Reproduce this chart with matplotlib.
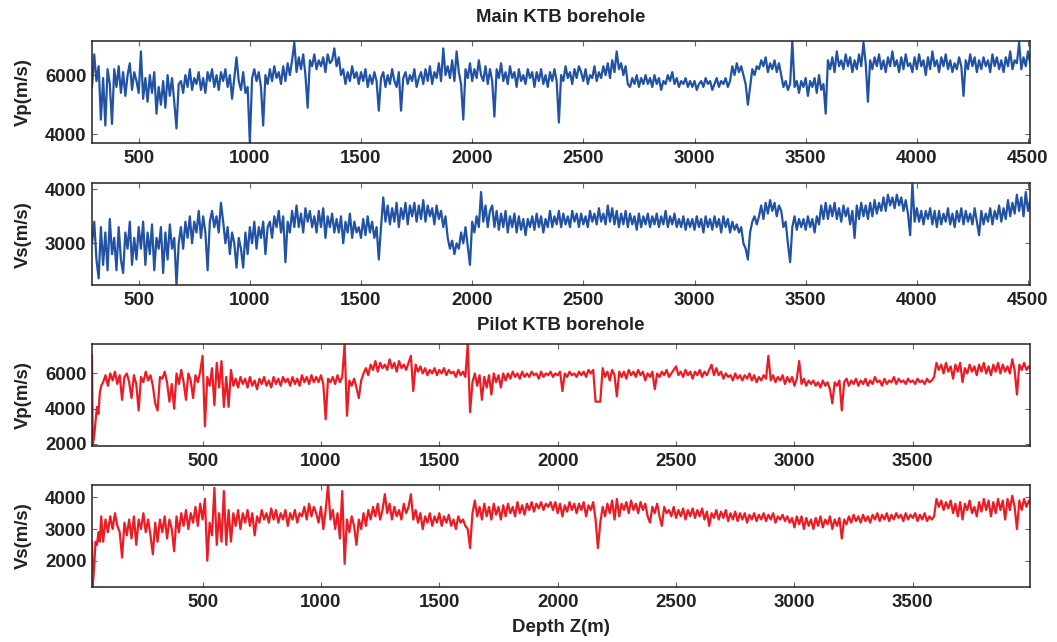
import numpy as np
import matplotlib
matplotlib.use("Agg")
import matplotlib.pyplot as plt

# ----- Velocity logs -----
# Main KTB borehole, one value every 10 m starting at 290 m
main_start, main_step = 290, 10
main_vp = [
    5600, 6700, 5800, 6300, 4500, 5900, 4300, 6200, 5700, 4350,
    6200, 5600, 6300, 5400, 6100, 5300, 6000, 6400, 5500, 6100,
    5800, 5400, 6800, 5200, 5900, 5100, 6000, 5400, 6100, 4700,
    5600, 5000, 5800, 4900, 6000, 5300, 5900, 5100, 4200, 5700,
    5800, 5400, 6000, 5600, 6200, 5500, 5900, 5700, 6100, 5500,
    5900, 5400, 6100, 5800, 6200, 5600, 6000, 5500, 6100, 5800,
    6200, 5600, 6000, 5200, 5900, 6600, 5800, 5500, 6100, 5400,
    5600, 3700, 5900, 6200, 5800, 6100, 5600, 4300, 6000, 5700,
    6200, 5800, 6300, 5900, 6100, 5700, 6300, 5800, 6400, 6000,
    6500, 7100, 6100, 6600, 6200, 6700, 6000, 4900, 6500, 6300,
    6700, 6200, 6500, 6300, 6600, 6100, 6700, 6400, 6500, 6900,
    6300, 6600, 6000, 6200, 5700, 6100, 5800, 6300, 5900, 6100,
    5700, 6100, 5800, 6200, 5600, 6000, 5700, 6100, 5800, 4800,
    5900, 6100, 5600, 6000, 5700, 6200, 5800, 5600, 6100, 4800,
    5900, 6100, 5700, 6000, 5800, 6200, 5600, 5900, 6100, 5700,
    6200, 5800, 6300, 5700, 6100, 5900, 6400, 5800, 6900, 6000,
    6300, 5900, 6500, 5800, 6800, 6100, 5700, 4500, 6200, 5900,
    6400, 5800, 6200, 5900, 6500, 6000, 5800, 6300, 5700, 6200,
    5800, 4600, 6200, 5900, 6400, 5800, 6100, 5700, 6300, 5900,
    6100, 5600, 6200, 5800, 6000, 5700, 6200, 5900, 6100, 5600,
    6100, 5800, 6200, 5700, 6000, 5600, 6100, 5800, 6200, 5800,
    4400, 6000, 5800, 6300, 5900, 6100, 5700, 6200, 5900, 6300,
    6100, 5800, 6200, 5700, 6000, 5900, 6300, 5800, 6100, 5900,
    6300, 6000, 6400, 5900, 6500, 6100, 6800, 6200, 6400, 6000,
    6300, 5700, 5600, 5900, 5700, 6000, 5600, 5900, 5700, 6000,
    5700, 5900, 5600, 6000, 5700, 5900, 5500, 5800, 5700, 6000,
    5800, 6100, 5700, 5900, 5600, 5800, 5700, 5900, 5600, 5800,
    5600, 5800, 5500, 5700, 5800, 5600, 5900, 5700, 5800, 5500,
    5700, 5900, 5600, 5800, 5700, 5900, 5600, 5800, 6300, 6000,
    6400, 6100, 6300, 6000, 5700, 5000, 5600, 6200, 6000, 6300,
    6200, 6500, 6300, 6600, 6100, 6400, 6200, 6500, 6100, 6400,
    6000, 5600, 5800, 5500, 5700, 7140, 5600, 5800, 5400, 5800,
    5600, 5900, 5300, 5800, 5600, 5900, 5400, 6000, 5500, 5700,
    4700, 6500, 6200, 6600, 6100, 6800, 6300, 6500, 6200, 6700,
    6300, 6600, 6100, 6500, 6200, 6700, 6300, 7100, 6400, 5100,
    6500, 6200, 6600, 6300, 6700, 6200, 6500, 6100, 6600, 6300,
    6800, 6300, 6500, 6100, 6600, 6200, 6700, 6300, 6400, 6100,
    6600, 6200, 6700, 6300, 6500, 6000, 6600, 6200, 6800, 6300,
    6500, 6100, 6600, 6300, 6700, 6200, 6500, 6100, 6400, 6200,
    6600, 6300, 5300, 6500, 6200, 6700, 6300, 6600, 6100, 6500,
    6200, 6600, 6300, 6500, 6100, 6700, 6300, 6600, 6200, 6500,
    6100, 6600, 6300, 6800, 6200, 6500, 6400, 7100, 6200, 6600,
    6300, 6800, 6400,
]
main_vs = [
    3000, 3400, 2700, 2350, 3300, 2600, 3200, 2500, 3450, 2800,
    3100, 2500, 3300, 2700, 2450, 3200, 2900, 3400, 2600, 3100,
    2700, 3300, 2900, 3400, 2600, 3200, 2800, 3350, 2500, 3100,
    2900, 3300, 2450, 3200, 2700, 3350, 2900, 3100, 2230, 3000,
    3300, 2900, 3400, 3100, 3500, 3000, 3400, 3200, 3600, 3100,
    3500, 3200, 2500, 3400, 3600, 3300, 3500, 3200, 3750, 3400,
    3000, 3300, 2800, 3200, 3000, 2550, 3100, 2900, 2550, 3200,
    2800, 3300, 3000, 3400, 2900, 3300, 3100, 3400, 2800, 3300,
    3400, 3100, 3500, 3300, 3600, 3200, 3500, 2650, 3400, 3200,
    3600, 3300, 3700, 3300, 3550, 3200, 3650, 3400, 3600, 3300,
    3500, 3200, 3600, 3300, 3650, 3100, 3500, 3300, 3550, 3200,
    3450, 3200, 3500, 3000, 3400, 3200, 3550, 3100, 3400, 3200,
    3300, 3100, 3450, 3150, 3500, 3200, 3400, 3100, 3300, 2700,
    3300, 3850, 3400, 3700, 3350, 3650, 3400, 3750, 3300, 3650,
    3450, 3750, 3350, 3700, 3500, 3750, 3400, 3700, 3450, 3800,
    3400, 3700, 3500, 3650, 3350, 3700, 3450, 3600, 3300, 3500,
    3100, 2900, 3050, 2800, 3000, 2900, 3200, 3000, 3300, 2950,
    2600, 3400, 3200, 3500, 3300, 3950, 3400, 3700, 3300, 3600,
    3700, 3300, 3600, 3250, 3550, 3300, 3600, 3200, 3500, 3300,
    3550, 3200, 3500, 3250, 3450, 3150, 3450, 3300, 3500, 3250,
    3550, 3300, 3500, 3200, 3450, 3300, 3600, 3300, 3500, 3350,
    3600, 3300, 3550, 3350, 3500, 3300, 3600, 3400, 3550, 3300,
    3550, 3350, 3500, 3300, 3600, 3400, 3550, 3350, 3650, 3400,
    3550, 3350, 3700, 3400, 3650, 3350, 3600, 3300, 3550, 3350,
    3600, 3300, 3550, 3350, 3500, 3250, 3550, 3300, 3500, 3350,
    3550, 3300, 3500, 3350, 3550, 3300, 3500, 3350, 3600, 3300,
    3500, 3350, 3550, 3300, 3450, 3300, 3500, 3250, 3450, 3300,
    3450, 3250, 3500, 3300, 3450, 3200, 3500, 3300, 3450, 3250,
    3500, 3300, 3450, 3200, 3500, 3300, 3450, 3200, 3400, 3250,
    3350, 3200, 3300, 3000, 2900, 2700, 3200, 3400, 3500, 3350,
    3500, 3700, 3450, 3750, 3550, 3800, 3600, 3750, 3500, 3700,
    3600, 3300, 3400, 3000, 2650, 3300, 3500, 3250, 3450, 3300,
    3450, 3250, 3500, 3300, 3450, 3200, 3500, 3350, 3700, 3450,
    3750, 3450, 3700, 3500, 3750, 3450, 3650, 3400, 3700, 3500,
    3650, 3350, 3600, 3100, 3700, 3450, 3750, 3500, 3700, 3450,
    3750, 3500, 3800, 3550, 3750, 3600, 3850, 3600, 3900, 3700,
    3850, 3650, 3900, 3700, 3850, 3600, 3800, 3550, 3150, 4110,
    3400, 3650, 3400, 3600, 3350, 3600, 3450, 3650, 3350, 3600,
    3300, 3600, 3350, 3550, 3400, 3650, 3350, 3550, 3300, 3600,
    3400, 3650, 3350, 3600, 3400, 3550, 3350, 3650, 3400, 3150,
    3600, 3350, 3550, 3400, 3650, 3350, 3600, 3450, 3700, 3400,
    3650, 3450, 3800, 3500, 3750, 3550, 3900, 3600, 3850, 3500,
    3950, 3600, 3800,
]

# Pilot KTB borehole: the top few metres, then one value every 10 m from 80 m
pilot_head_z = [33, 36, 42, 48, 54, 60, 66, 72]
pilot_head_vp = [7000, 1950, 2400, 3300, 4100, 3700, 4900, 5300]
pilot_head_vs = [2600, 1170, 1800, 2600, 2500, 2900, 2600, 3400]
pilot_start, pilot_step = 80, 10
pilot_vp = [
    5500, 5900, 5300, 6000, 5600, 6100, 5400, 5900, 4500, 5800,
    6000, 5500, 4600, 5900, 5400, 3900, 5800, 5500, 6100, 5600,
    5900, 5300, 4300, 3900, 5800, 5700, 6100, 5500, 4400, 5400,
    4000, 6000, 5400, 6200, 5500, 4500, 6000, 5600, 4600, 5900,
    5500, 6100, 7000, 3000, 5800, 5300, 6300, 4200, 6600, 5200,
    6700, 4100, 5800, 4100, 6200, 5300, 5700, 5200, 5800, 5400,
    5700, 5200, 5800, 5300, 5600, 5100, 5700, 5400, 5800, 5300,
    5600, 5200, 5800, 5400, 5700, 5300, 5800, 5500, 5700, 5300,
    5800, 5400, 5700, 5300, 5900, 5500, 5800, 5400, 5900, 5500,
    5800, 5500, 5900, 5400, 3400, 5700, 5500, 5800, 5400, 5900,
    5500, 5800, 7670, 3600, 5600, 5300, 5700, 5200, 4600, 5600,
    6000, 6300, 5900, 6500, 6200, 6700, 6100, 6600, 6300, 6500,
    6200, 6800, 6300, 6600, 6100, 6700, 6300, 6500, 6200, 6600,
    7000, 5000, 6500, 6100, 6400, 6000, 6300, 5900, 6200, 6000,
    6300, 5900, 6200, 6000, 6300, 5900, 6200, 6000, 6100, 5800,
    6200, 5900, 6100, 5800, 7670, 3800, 5500, 6000, 5300, 5900,
    4500, 5800, 5200, 5900, 4800, 6000, 5500, 5900, 5200, 6000,
    5600, 6000, 5700, 6100, 5800, 6000, 5700, 6100, 5800, 6000,
    5800, 6100, 5900, 6000, 5700, 6100, 5800, 6000, 5900, 6100,
    5800, 6000, 5900, 6100, 5000, 6000, 5800, 6100, 5900, 6000,
    5800, 6100, 5900, 6100, 5800, 6200, 6000, 6200, 4400, 4400,
    4400, 6300, 5800, 6100, 5600, 6200, 5900, 4700, 6100, 5800,
    6100, 5700, 6200, 5900, 6100, 5800, 6200, 5900, 6100, 5600,
    6000, 5800, 6100, 5100, 6000, 5800, 6100, 5900, 6200, 5800,
    6000, 6200, 6400, 5900, 6100, 5800, 6200, 5900, 6100, 5700,
    6100, 5900, 6200, 5800, 6100, 5900, 6200, 6500, 5900, 6300,
    5900, 6100, 5700, 6000, 5800, 5900, 5600, 6000, 5700, 5900,
    5600, 5900, 5700, 6000, 5600, 5900, 5500, 5800, 5600, 5900,
    5700, 7000, 5600, 5900, 5500, 5800, 5600, 5900, 5400, 5800,
    5500, 5800, 5300, 5700, 6700, 5400, 5700, 5300, 5600, 5400,
    5600, 5300, 5500, 5200, 5600, 5300, 5500, 5100, 4300, 5500,
    5300, 5600, 3900, 5500, 5700, 5300, 5600, 5400, 5700, 5300,
    5600, 5400, 5700, 5300, 5600, 5400, 5800, 5500, 5600, 5300,
    5700, 5400, 5600, 5500, 5800, 5400, 5700, 5500, 5600, 5400,
    5700, 5500, 5600, 5400, 5700, 5500, 5600, 5400, 5700, 5500,
    5600, 5800, 6600, 6200, 6500, 6000, 6600, 6100, 6400, 5700,
    6500, 6100, 6600, 5500, 6300, 6000, 6500, 6100, 6400, 5900,
    6500, 6100, 6600, 6000, 6400, 5900, 6500, 6100, 6600, 6000,
    6500, 6100, 6400, 6000, 6800, 6200, 4800, 6500, 6200, 6600,
    6200, 6400, 6100,
]
pilot_vs = [
    2600, 3300, 2900, 3400, 3000, 3500, 3100, 2900, 2100, 3200,
    2800, 3300, 2700, 3400, 2500, 3300, 3000, 3500, 2900, 3300,
    2800, 2200, 3200, 2600, 3300, 2900, 3400, 2700, 3300, 3000,
    2300, 3400, 2900, 3500, 3100, 3600, 3000, 3500, 3200, 3700,
    3100, 3800, 3300, 3950, 2000, 3200, 2800, 4300, 2500, 3500,
    2600, 4200, 2500, 3600, 2600, 3500, 3100, 3600, 3000, 3500,
    3200, 3600, 3100, 3500, 2800, 3400, 3200, 3600, 3300, 3500,
    3200, 3650, 3300, 3600, 3200, 3500, 3300, 3600, 3100, 3500,
    3300, 3600, 3200, 3500, 3400, 3700, 3300, 3800, 3400, 3700,
    3500, 3200, 3700, 3000, 3600, 4390, 3300, 3600, 3000, 3500,
    2700, 4200, 1900, 3300, 2900, 3400, 3100, 2500, 3300, 3000,
    3500, 3100, 3600, 3300, 3700, 3400, 3800, 3300, 3600, 4100,
    3500, 3800, 3300, 3700, 3400, 3600, 3300, 3800, 3500, 3700,
    4100, 3300, 3600, 3200, 3500, 3000, 3400, 3200, 3500, 3100,
    3400, 3200, 3500, 3100, 3400, 3200, 3450, 3100, 3300, 3000,
    3400, 3200, 3300, 3100, 3000, 2400, 3500, 3900, 3400, 3700,
    3300, 3800, 3400, 3700, 3300, 3800, 3450, 3700, 3300, 3750,
    3400, 3800, 3500, 3700, 3400, 3850, 3500, 3750, 3450, 3800,
    3600, 3850, 3550, 3800, 3650, 3850, 3600, 3800, 3700, 3850,
    3600, 3850, 3500, 3800, 3400, 3750, 3550, 3850, 3600, 3800,
    3500, 3800, 3600, 3850, 3400, 3750, 3600, 3850, 3300, 2400,
    3200, 3700, 3400, 3800, 3500, 3900, 3300, 3950, 3400, 3800,
    3600, 3850, 3500, 3900, 3600, 3800, 3500, 3850, 3600, 3800,
    3400, 3200, 3700, 3500, 3800, 3400, 3100, 3700, 3500, 3600,
    3400, 3700, 3350, 3600, 3400, 3650, 3300, 3600, 3400, 3650,
    3350, 3600, 3400, 3650, 3300, 3550, 3100, 3500, 3350, 3600,
    3300, 3550, 3350, 3600, 3250, 3500, 3300, 3550, 3250, 3500,
    3300, 3500, 3200, 3450, 3300, 3500, 3250, 3450, 3300, 3500,
    3250, 3450, 3300, 3500, 3200, 3400, 3300, 3450, 3250, 3400,
    3200, 3350, 3050, 3400, 3150, 3400, 3000, 3350, 3100, 3300,
    3000, 3350, 3100, 3400, 3050, 3300, 3150, 3400, 3000, 3300,
    3100, 3350, 2700, 3300, 3150, 3400, 3200, 3450, 3250, 3400,
    3200, 3450, 3250, 3400, 3200, 3450, 3300, 3500, 3250, 3450,
    3300, 3500, 3250, 3450, 3300, 3500, 3350, 3450, 3250, 3500,
    3300, 3450, 3350, 3500, 3250, 3450, 3300, 3500, 3250, 3400,
    3300, 3400, 3950, 3700, 3900, 3600, 3850, 3650, 3900, 3500,
    3800, 3400, 3850, 3300, 3800, 3600, 3900, 3500, 3700, 3400,
    3850, 3550, 3950, 3600, 3900, 3400, 3850, 3500, 3950, 3600,
    3900, 3300, 3950, 3600, 4050, 3700, 3000, 3900, 3600, 3950,
    3700, 3900, 3750,
]

main_z = main_start + main_step * np.arange(len(main_vp))
pilot_z = np.concatenate([pilot_head_z,
                          pilot_start + pilot_step * np.arange(len(pilot_vp))])
pilot_vp_all = np.concatenate([pilot_head_vp, pilot_vp])
pilot_vs_all = np.concatenate([pilot_head_vs, pilot_vs])

main_xticks = [500, 1000, 1500, 2000, 2500, 3000, 3500, 4000, 4500]
pilot_xticks = [500, 1000, 1500, 2000, 2500, 3000, 3500]

blue = '#2152A3'
red = '#ED1C24'

plt.rcParams['font.family'] = ['Liberation Sans', 'DejaVu Sans']
plt.rcParams['font.weight'] = 'bold'
plt.rcParams['font.size'] = 13.4
plt.rcParams['text.color'] = '#222222'

W, H = 1057, 642
fig = plt.figure(figsize=(W / 100, H / 100), dpi=100)

# panel pixel boxes: (top, bottom)
rows = [(41.3, 143.3), (183.3, 285.0), (344.0, 445.7), (485.0, 587.0)]
left_px, right_px = 92, 1030

panels = [
    (main_z, main_vp, blue, (290, 4509), (3700, 7140), [4000, 6000], main_xticks, 'Vp(m/s)'),
    (main_z, main_vs, blue, (290, 4509), (2228, 4111), [3000, 4000], main_xticks, 'Vs(m/s)'),
    (pilot_z, pilot_vp_all, red, (33, 3995), (1900, 7670), [2000, 4000, 6000], pilot_xticks, 'Vp(m/s)'),
    (pilot_z, pilot_vs_all, red, (33, 3995), (1170, 4390), [2000, 3000, 4000], pilot_xticks, 'Vs(m/s)'),
]

for (top, bot), (z, v, col, xl, yl, yt, xt, ylab) in zip(rows, panels):
    ax = fig.add_axes([left_px / W, 1 - bot / H, (right_px - left_px) / W, (bot - top) / H])
    ax.plot(z, v, color=col, lw=1.6)
    ax.set_xlim(*xl)
    ax.set_ylim(*yl)
    ax.set_xticks(xt)
    ax.set_yticks(yt)
    ax.tick_params(direction='in', length=3.5, width=0.8, color='#666666',
                   top=True, right=True, labelsize=13.4, labelcolor='#222222')
    ax.tick_params(axis='x', pad=5)
    ax.tick_params(axis='y', pad=4)
    for s in ax.spines.values():
        s.set_linewidth(1.1)
        s.set_color('#222222')
        s.set_zorder(3)
    fig.text(23 / W, 1 - (top + bot) / 2 / H, ylab, rotation=90,
             ha='center', va='center', fontsize=13.4, fontweight='bold')

cx = (left_px + right_px) / 2 / W
fig.text(cx, 1 - 17 / H, 'Main KTB borehole', ha='center', va='center',
         fontsize=13.4, fontweight='bold')
fig.text(cx, 1 - 326 / H, 'Pilot KTB borehole', ha='center', va='center',
         fontsize=13.4, fontweight='bold')
fig.text(cx, 1 - 628 / H, 'Depth Z(m)', ha='center', va='center',
         fontsize=13.4, fontweight='bold')

fig.savefig('out.png', dpi=100, facecolor='white')
